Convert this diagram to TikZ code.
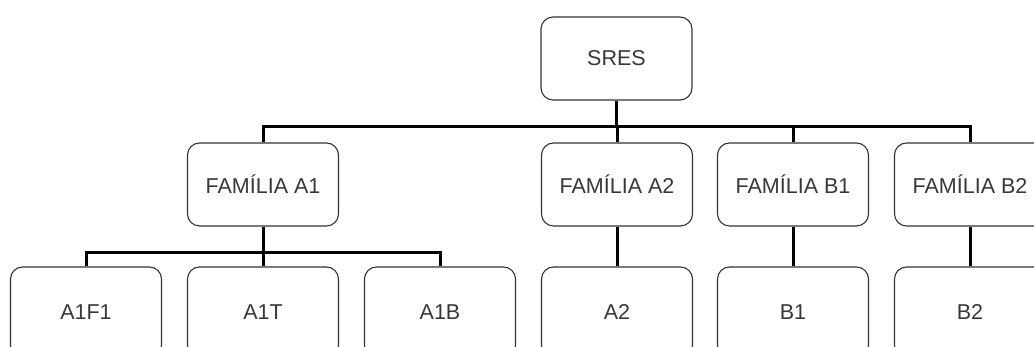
\documentclass[tikz,border=0pt]{standalone}
\usepackage{fontspec}
\setmainfont{Liberation Sans}
\usetikzlibrary{positioning, calc}

\tikzset{
    box/.style={draw=black!80, line width=1.1pt, rounded corners=12pt, fill=white,
        minimum width=151pt, minimum height=83pt, inner sep=0pt,
        text=black!78, font=\fontsize{21.5}{25}\selectfont},
    leaf/.style={box, minimum height=90pt},
    conn/.style={line width=3pt, black}
}

\begin{document}
\begin{tikzpicture}[x=1pt, y=1pt]
    \clip (0,0) rectangle (1034,347);
    \fill[white] (0,0) rectangle (1034,347);

    % raiz
    \node[box] (sres) at (616.5, 288.5) {SRES};

    % familias
    \node[box] (fa1) at (263, 162.5) {FAMÍLIA A1};
    \node[box] (fa2) at (617, 162.5) {FAMÍLIA A2};
    \node[box] (fb1) at (793, 162.5) {FAMÍLIA B1};
    \node[box] (fb2) at (970, 162.5) {FAMÍLIA B2};

    % folhas
    \node[leaf] (a1f1) at (86, 35) {A1F1};
    \node[leaf] (a1t) at (263, 35) {A1T};
    \node[leaf] (a1b) at (440, 35) {A1B};
    \node[leaf] (a2) at (617, 35) {A2};
    \node[leaf] (b1) at (793, 35) {B1};
    \node[leaf] (b2) at (970, 35) {B2};

    \coordinate (topbus) at (0, 220);
    \coordinate (lowbus) at (0, 94);

    \draw[conn] (sres.south) -- (sres.south |- topbus);
    \draw[conn] (fa1.north) -- (fa1.north |- topbus) -| (fb2.north);
    \draw[conn] (fa2.north) -- (fa2.north |- topbus);
    \draw[conn] (fb1.north) -- (fb1.north |- topbus);

    \draw[conn] (fa1.south) -- (a1t.north);
    \draw[conn] (a1f1.north) -- (a1f1.north |- lowbus) -| (a1b.north);
    \draw[conn] (fa2.south) -- (a2.north);
    \draw[conn] (fb1.south) -- (b1.north);
    \draw[conn] (fb2.south) -- (b2.north);
\end{tikzpicture}
\end{document}
